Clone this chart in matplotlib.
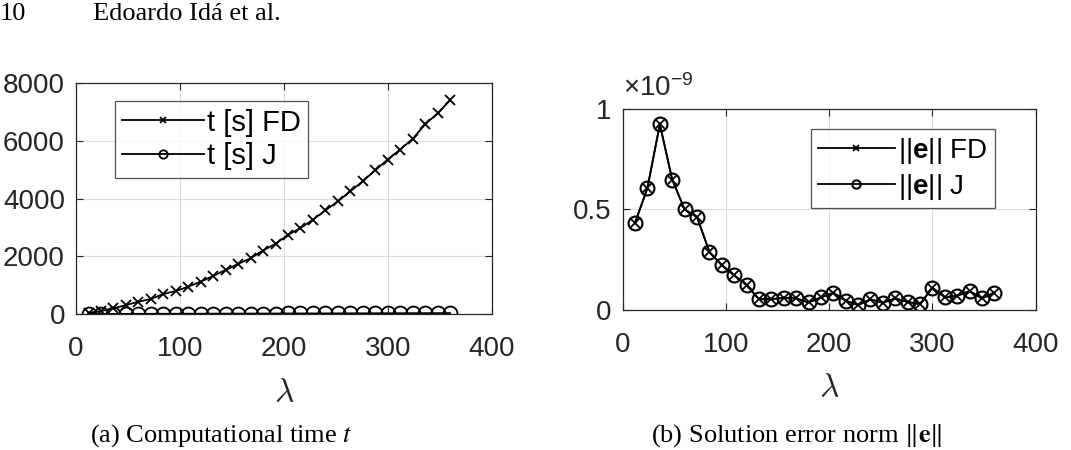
import numpy as np
import matplotlib
matplotlib.use("Agg")
import matplotlib.pyplot as plt

# lambda values (sample points)
lam = [12, 24, 36, 48, 60, 72, 84, 96, 108, 120, 132, 144, 156, 168, 180,
       192, 204, 216, 228, 240, 252, 264, 276, 288, 300, 312, 324, 336, 348, 360]

# computational time t [s]
t_fd = [45, 104, 197, 313, 429, 522, 696, 800, 951, 1125, 1322, 1530, 1739, 1936, 2203,
        2435, 2748, 2980, 3270, 3594, 3907, 4255, 4603, 4985, 5357, 5704, 6075, 6574, 6957, 7409]
t_j = [5, 6, 7, 8, 9, 10, 11, 12, 13, 14, 15, 16, 17, 18, 19,
       20, 21, 22, 23, 24, 25, 26, 27, 28, 29, 30, 31, 32, 33, 34]

# solution error norm ||e|| (x 1e-9)
e_fd = [0.434, 0.607, 0.924, 0.648, 0.500, 0.462, 0.289, 0.223, 0.173, 0.124, 0.054, 0.054, 0.061, 0.058, 0.038,
        0.063, 0.086, 0.046, 0.025, 0.053, 0.036, 0.058, 0.040, 0.030, 0.111, 0.063, 0.071, 0.094, 0.058, 0.087]
e_j = [0.434, 0.607, 0.924, 0.648, 0.500, 0.462, 0.289, 0.223, 0.173, 0.124, 0.054, 0.054, 0.061, 0.058, 0.038,
       0.063, 0.086, 0.046, 0.025, 0.053, 0.036, 0.058, 0.040, 0.030, 0.111, 0.063, 0.071, 0.094, 0.058, 0.087]

plt.rcParams['font.family'] = ['Liberation Sans', 'DejaVu Sans']
plt.rcParams['mathtext.fontset'] = 'custom'
plt.rcParams['mathtext.rm'] = 'Liberation Sans'
plt.rcParams['mathtext.bf'] = 'Liberation Sans:bold'
plt.rcParams['mathtext.it'] = 'Liberation Sans:italic'
tick_fs = 20
col = '#262626'

fig = plt.figure(figsize=(10.71, 4.5), dpi=100)
ax1 = fig.add_axes([0.071, 0.302, 0.388, 0.513])
ax2 = fig.add_axes([0.5814, 0.311, 0.3856, 0.447])

# (a) computational time
ax1.plot(lam, t_fd, color='black', lw=1.3, marker='x', ms=7, mew=1.3, label='t [s] FD')
ax1.plot(lam, t_j, color='black', lw=1.3, marker='o', ms=10, mfc='none', mew=1.3, label='t [s] J')
ax1.set_ylim(0, 8000)
ax1.set_yticks([0, 2000, 4000, 6000, 8000])

# (b) error norm
ax2.plot(lam, e_fd, color='black', lw=1.3, marker='x', ms=7, mew=1.3, label='||$\\mathbf{e}$|| FD')
ax2.plot(lam, e_j, color='black', lw=1.3, marker='o', ms=10, mfc='none', mew=1.5, label='||$\\mathbf{e}$|| J')
ax2.set_ylim(0, 1)
ax2.set_yticks([0, 0.5, 1])
ax2.set_yticklabels(['0', '0.5', '1'])
ax2.text(0.0, 1.035, '$\\times$10$^{-9}$', transform=ax2.transAxes, fontsize=tick_fs,
         color=col, ha='left', va='bottom')

for ax in (ax1, ax2):
    ax.set_xlim(0, 400)
    ax.set_xticks([0, 100, 200, 300, 400])
    ax.grid(True, color='#dcdcdc', lw=0.8)
    ax.set_axisbelow(True)
    ax.tick_params(labelsize=tick_fs, colors=col, direction='in', length=5, width=0.8,
                   top=True, right=True, pad=16)
    ax.tick_params(axis='y', pad=8)
    for s in ax.spines.values():
        s.set_color(col)
        s.set_linewidth(0.9)
    ax.set_xlabel('$\\lambda$', fontsize=24, color=col, labelpad=11, math_fontfamily='cm')

leg_kw = dict(loc='upper left', handlelength=2.8, frameon=True, fancybox=False,
              edgecolor=col, borderpad=0.25, labelspacing=0.2, handletextpad=0.1,
              borderaxespad=0, markerscale=0.6)
leg1 = ax1.legend(bbox_to_anchor=(0.094, 0.922), fontsize=21, **leg_kw)
leg1.get_frame().set_linewidth(0.9)
leg2 = ax2.legend(bbox_to_anchor=(0.455, 0.9), fontsize=20, **leg_kw)
leg2.get_frame().set_linewidth(0.9)

# page header and captions
fig.text(0.0, 0.968, '10', family='Liberation Serif', fontsize=19, va='center', ha='left')
fig.text(0.087, 0.968, 'Edoardo Idá et al.', family='Liberation Serif', fontsize=19, va='center', ha='left')
fig.text(0.207, 0.032, '(a) Computational time $t$', family='Liberation Serif', fontsize=19,
         va='center', ha='center', math_fontfamily='stix')
fig.text(0.744, 0.032, '(b) Solution error norm $\\|\\mathbf{e}\\|$', family='Liberation Serif',
         fontsize=19, va='center', ha='center', math_fontfamily='stix')

fig.savefig('out.png', dpi=100, facecolor='white')
